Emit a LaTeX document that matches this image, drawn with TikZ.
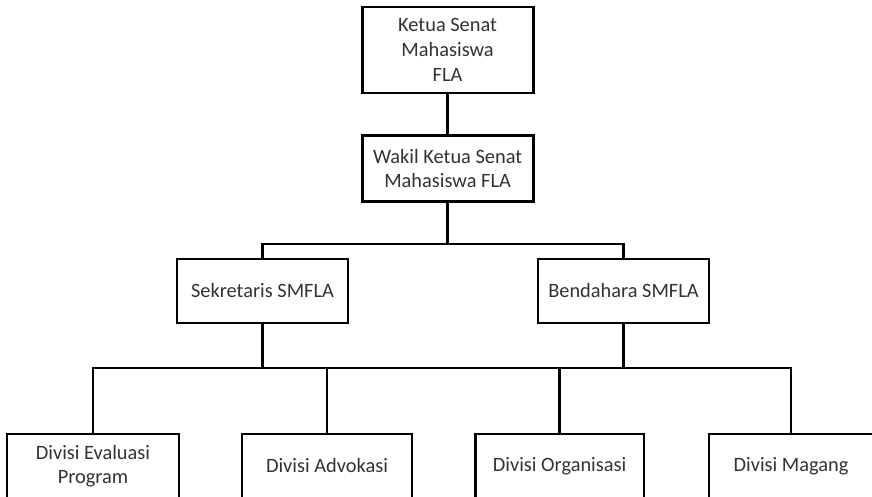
\documentclass[tikz,border=0pt]{standalone}
\usepackage{fontspec}
\setmainfont{Carlito}
\usepackage{tikz}
\usetikzlibrary{shapes,arrows}
\tikzstyle{block}=[rectangle, draw, line width=2pt, fill=white, align=center,
                   text=black!80, font=\fontsize{14.5}{17.5}\selectfont,
                   inner sep=2pt, minimum height=1.6cm, minimum width=4.275cm]
\tikzstyle{line} =[draw, line width=2pt]

\begin{document}
\begin{tikzpicture}
    \useasboundingbox (0,0) rectangle (21.8,12.425);
    \node [block, minimum height=2.15cm] at (11.19,11.175)  (ketua) {Ketua Senat\\Mahasiswa\\FLA};
    \node [block, minimum height=1.65cm] at (11.19,8.21)    (wakil) {Wakil Ketua Senat\\Mahasiswa FLA};
    \node [block] at (6.5625,5.15)   (sek)  {Sekretaris SMFLA};
    \node [block] at (15.5875,5.15)  (bend) {Bendahara SMFLA};
    \node [block, minimum width=4.3cm] at (2.325,0.775)   (eval) {Divisi Evaluasi\\Program};
    \node [block, minimum width=4.25cm] at (8.175,0.775)  (adv)  {Divisi Advokasi};
    \node [block, minimum width=4.22cm] at (13.99,0.775)  (org)  {Divisi Organisasi};
    \node [block, minimum width=4.1cm] at (19.775,0.775)  (mag)  {Divisi Magang};
    \coordinate (bus1) at (11.19,6.325);
    \coordinate (bus2) at (11.19,3.225);
    \path [line] (ketua) -- (wakil);
    \path [line] (wakil) -- (bus1);
    \path [line] (sek) |- (bus1) -| (bend);
    \path [line] (sek) -- (sek |- bus2);
    \path [line] (bend) -- (bend |- bus2);
    \path [line] (eval) |- (bus2 -| mag) -- (mag);
    \path [line] (adv) -- (adv |- bus2);
    \path [line] (org) -- (org |- bus2);
\end{tikzpicture}
\end{document}
